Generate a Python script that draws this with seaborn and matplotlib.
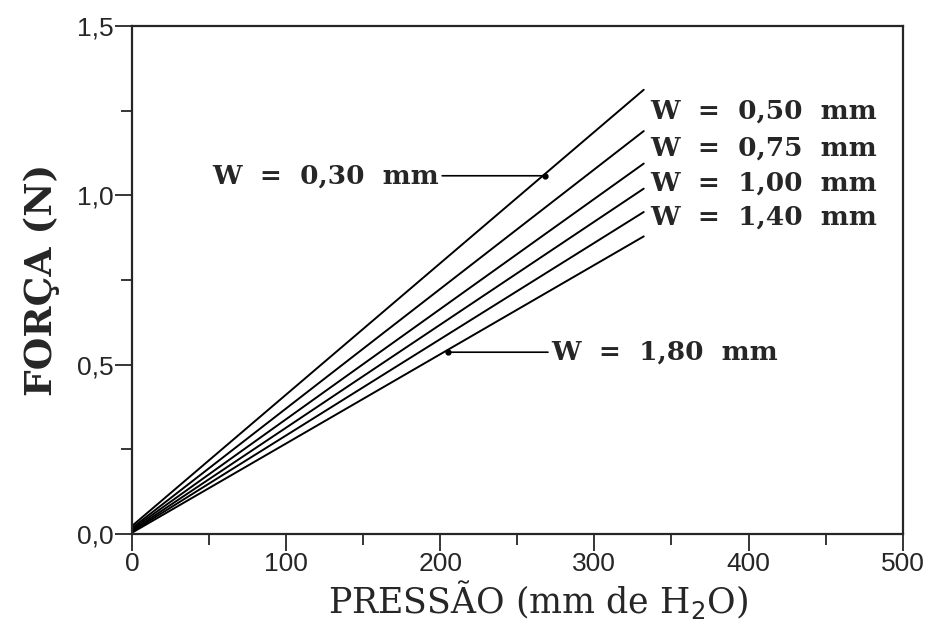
import numpy as np
import pandas as pd
import seaborn as sns
import matplotlib.pyplot as plt
from matplotlib.ticker import MultipleLocator, FuncFormatter

# dados (largura W em mm)
larguras = ['0,30', '0,50', '0,75', '1,00', '1,40', '1,80']
pressao = [0, 332]                                   # mm de H2O
forca_ini = [0.024, 0.018, 0.014, 0.010, 0.007, 0.004]  # N em P = 0
forca_fim = [1.312, 1.190, 1.094, 1.020, 0.951, 0.879]  # N em P = 332

# rotulos a direita (W = 0,50 ... 1,40)
rot_dir = ['0,50', '0,75', '1,00', '1,40']
rot_dir_y = [1.248, 1.141, 1.037, 0.937]

# rotulos com seta
seta_txt = ['0,30', '1,80']
seta_ponto = [(268, 1.058), (205, 0.537)]
seta_texto = [(52, 1.058), (272, 0.537)]

linhas = []
for w, y0, y1 in zip(larguras, forca_ini, forca_fim):
    linhas.append({'W': w, 'P': pressao[0], 'F': y0})
    linhas.append({'W': w, 'P': pressao[1], 'F': y1})
df = pd.DataFrame(linhas)

sns.set_style('ticks')
plt.rcParams['font.family'] = ['Liberation Sans', 'DejaVu Sans']

fig = plt.figure(figsize=(9.33, 6.21), dpi=100)
ax = fig.add_axes([0.1415, 0.140, 0.826, 0.818])

sns.lineplot(data=df, x='P', y='F', hue='W', palette=['black'] * len(larguras),
             linewidth=1.4, legend=False, ax=ax)

serif = ['DejaVu Serif']
fs = 19
for w, y in zip(rot_dir, rot_dir_y):
    ax.text(336, y, f'W  =  {w}  mm', family=serif, fontsize=fs, fontweight='bold',
            va='center', ha='left')

for w, (px, py), (tx, ty) in zip(seta_txt, seta_ponto, seta_texto):
    ax.annotate(f'W  =  {w}  mm', xy=(px, py), xytext=(tx, ty),
                family=serif, fontsize=fs, fontweight='bold', va='center',
                arrowprops=dict(arrowstyle='-', color='black', lw=1.2,
                                shrinkA=0, shrinkB=0))
    ax.plot([px], [py], 'o', color='black', ms=3.5)

ax.set_xlim(0, 500)
ax.set_ylim(0, 1.5)
ax.xaxis.set_major_locator(MultipleLocator(100))
ax.xaxis.set_minor_locator(MultipleLocator(50))
ax.yaxis.set_major_locator(MultipleLocator(0.5))
ax.yaxis.set_minor_locator(MultipleLocator(0.25))
ax.yaxis.set_major_formatter(FuncFormatter(lambda v, p: f'{v:.1f}'.replace('.', ',')))
ax.tick_params(which='major', length=12, width=1.3, labelsize=19, direction='out', pad=1)
ax.tick_params(which='minor', length=8, width=1.3, direction='out')
for s in ax.spines.values():
    s.set_linewidth(1.6)
    s.set_visible(True)

ax.set_xlabel('PRESSÃO (mm de H$_2$O)', family=serif, fontsize=25)
ax.xaxis.set_label_coords(0.527, -0.087)
ax.set_ylabel('FORÇA (N)', family=serif, fontsize=27, fontweight='bold')
ax.yaxis.set_label_coords(-0.093, 0.5)

fig.savefig('out.png', dpi=100)
